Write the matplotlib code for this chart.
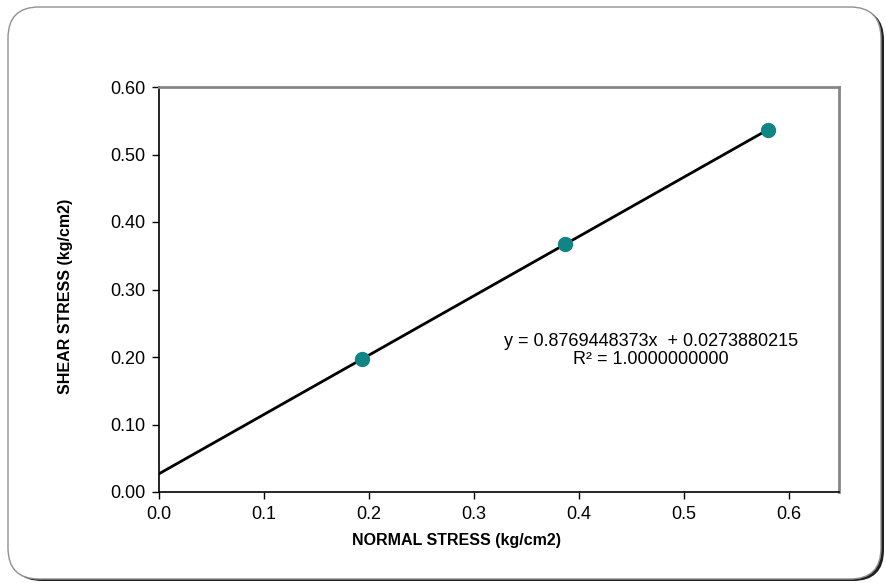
import numpy as np
import matplotlib.pyplot as plt
from matplotlib.patches import FancyBboxPatch

plt.rcParams['font.family'] = ['Liberation Sans', 'DejaVu Sans']

# データ
normal_stress = [0.1935, 0.387, 0.5805]
shear_stress = [0.197, 0.367, 0.537]
x_ticks = [0.0, 0.1, 0.2, 0.3, 0.4, 0.5, 0.6]
y_ticks = [0.00, 0.10, 0.20, 0.30, 0.40, 0.50, 0.60]
eq_label = 'y = 0.8769448373x  + 0.0273880215\nR² = 1.0000000000'

fig = plt.figure(figsize=(8.86, 5.83), dpi=100)

# 角丸の枠 (影付き)
shadow = FancyBboxPatch((11 / 886, 2 / 583), 873 / 886, 572 / 583,
                        boxstyle="round,pad=0,rounding_size=0.035",
                        transform=fig.transFigure, facecolor='#202020',
                        edgecolor='none', zorder=0, mutation_aspect=886 / 583)
frame = FancyBboxPatch((8 / 886, 4 / 583), 873 / 886, 572 / 583,
                       boxstyle="round,pad=0,rounding_size=0.035",
                       transform=fig.transFigure, facecolor='white',
                       edgecolor='#909090', linewidth=1.0, zorder=1,
                       mutation_aspect=886 / 583)
fig.patches.extend([shadow, frame])

ax = fig.add_axes([159 / 886, 1 - 492 / 583, 680 / 886, 405 / 583])
ax.set_zorder(2)
ax.patch.set_alpha(0)

# 近似直線
slope, intercept = np.polyfit(normal_stress, shear_stress, 1)
xl = np.array([0.0, normal_stress[-1]])
ax.plot(xl, slope * xl + intercept, color='black', linewidth=2, zorder=2)
ax.scatter(normal_stress, shear_stress, s=100, color='#118585', zorder=3)

ax.set_xlim(0, 0.648)
ax.set_ylim(0, 0.6)
ax.set_xticks(x_ticks)
ax.set_xticklabels([f'{t:.1f}' for t in x_ticks])
ax.set_yticks(y_ticks)
ax.set_yticklabels([f'{t:.2f}' for t in y_ticks])
ax.tick_params(direction='out', length=5, width=1, labelsize=13, color='black', pad=5)

for side in ['left', 'bottom']:
    ax.spines[side].set_color('black')
    ax.spines[side].set_linewidth(1.2)
for side in ['right', 'top']:
    ax.spines[side].set_color('#868686')
    ax.spines[side].set_linewidth(2)

ax.set_xlabel('NORMAL STRESS (kg/cm2)', fontsize=11.5, fontweight='bold')
ax.xaxis.set_label_coords(0.438, -0.10)
ax.set_ylabel('SHEAR STRESS (kg/cm2)', fontsize=11.5, fontweight='bold')
ax.yaxis.set_label_coords(-0.127, 0.484)

ax.text(0.4686, 0.21, eq_label, ha='center', va='center', fontsize=13, linespacing=1.1)

fig.savefig('out.png', dpi=100)
